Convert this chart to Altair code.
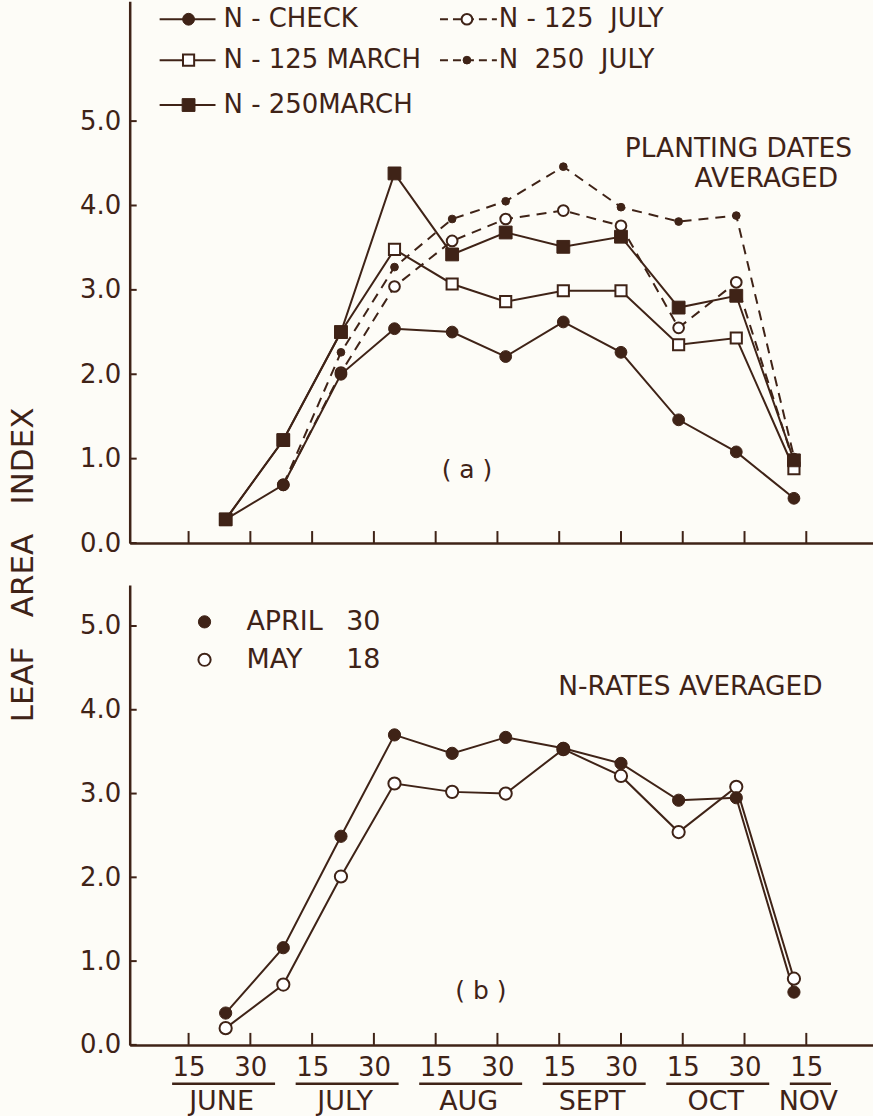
import altair as alt
import pandas as pd

NB = "\u00a0"

# ---------------- data ----------------
sample_days = [24, 38, 52, 65, 79, 92, 106, 120, 134, 148, 162]

n_check    = [0.28, 0.69, 2.00, 2.54, 2.50, 2.21, 2.62, 2.26, 1.46, 1.08, 0.53]
n125_march = [0.28, 1.22, 2.50, 3.48, 3.07, 2.86, 2.99, 2.99, 2.35, 2.43, 0.88]
n250_march = [0.28, 1.22, 2.50, 4.38, 3.42, 3.68, 3.51, 3.63, 2.79, 2.93, 0.98]
n125_july  = [None, 0.69, 2.02, 3.04, 3.58, 3.84, 3.94, 3.76, 2.55, 3.09, 0.95]
n250_july  = [None, 0.69, 2.26, 3.27, 3.84, 4.05, 4.46, 3.98, 3.81, 3.88, 1.02]

april30 = [0.38, 1.16, 2.49, 3.70, 3.48, 3.67, 3.54, 3.36, 2.92, 2.95, 0.63]
may18   = [0.20, 0.72, 2.01, 3.12, 3.02, 3.00, 3.53, 3.21, 2.54, 3.08, 0.79]

series_a = ["N - CHECK", "N - 125 MARCH", "N - 250MARCH",
            "N - 125" + NB * 2 + "JULY", "N" + NB * 2 + "250" + NB * 2 + "JULY"]
values_a = [n_check, n125_march, n250_march, n125_july, n250_july]

series_b_month = ["APRIL", "MAY"]
series_b_day = ["30", "18"]
values_b = [april30, may18]

tick_days   = [15, 30, 45, 60, 75, 90, 105, 120, 135, 150, 165]
tick_labels = ["15", "30", "15", "30", "15", "30", "15", "30", "15", "30", "15"]
month_names = ["JUNE", "JULY", "AUG", "SEPT", "OCT", "NOV"]
month_first = [15, 45, 75, 105, 135, 165]
month_last  = [30, 60, 90, 120, 150, 165]
y_ticks = [0, 1, 2, 3, 4, 5]
y_title = (NB * 3).join(["LEAF", "AREA", "INDEX"])

# ---------------- style ----------------
INK = "#3f2317"
PAPER = "#fdfcf7"
FONT = "DejaVu Sans"
W = 745
HA, HB = 543, 461
X_DOMAIN = [0.7, 181.2]
YA_DOMAIN = [0, 6.42]
YB_DOMAIN = [0, 5.49]

label_expr = " : ".join(
    f"datum.value == {d} ? '{t}'" for d, t in zip(tick_days, tick_labels)
) + " : ''"


def x_enc(field, bottom):
    kw = dict(title=None, grid=False, ticks=False, domainColor=INK, domainWidth=2.5)
    if bottom:
        kw.update(values=tick_days, labelExpr=label_expr, labelFontSize=26,
                  labelColor=INK, labelFont=FONT, labelPadding=10,
                  labelBaseline="top")
    else:
        kw.update(labels=False)
    return alt.X(field, type="quantitative",
                 scale=alt.Scale(domain=X_DOMAIN, nice=False, zero=False),
                 axis=alt.Axis(**kw))


def y_enc(field, dom):
    return alt.Y(field, type="quantitative",
                 scale=alt.Scale(domain=dom, nice=False, zero=False),
                 axis=alt.Axis(values=y_ticks, format=".1f", title=None, grid=False,
                               ticks=False, labelPadding=9, labelFontSize=26,
                               labelColor=INK, labelFont=FONT,
                               domainColor=INK, domainWidth=2.5))


style_list = [
    dict(dash=None, shape="circle", fill=INK, size=140),
    dict(dash=None, shape="square", fill="white", size=125),
    dict(dash=None, shape="square", fill=INK, size=165),
    dict(dash=[10, 7], shape="circle", fill="white", size=115),
    dict(dash=[10, 7], shape="circle", fill=INK, size=60),
]
styles_a = dict(zip(series_a, style_list))

rows = []
for name, vals in zip(series_a, values_a):
    for d, v in zip(sample_days, vals):
        if v is not None:
            rows.append({"day": d, "lai": v, "series": name})
df_a = pd.DataFrame(rows)

rows = []
for m, dd, vals in zip(series_b_month, series_b_day, values_b):
    for d, v in zip(sample_days, vals):
        rows.append({"day": d, "lai": v, "series": m + " " + dd})
df_b = pd.DataFrame(rows)


def line_layer(df, name, dom, bottom, dash):
    kw = dict(color=INK, strokeWidth=2)
    if dash:
        kw["strokeDash"] = dash
    return alt.Chart(df[df.series == name]).mark_line(**kw).encode(
        x=x_enc("day", bottom), y=y_enc("lai", dom))


def point_layer(df, name, dom, bottom, shape, fill, size):
    open_m = fill == "white"
    return alt.Chart(df[df.series == name]).mark_point(
        shape=shape, filled=True, fill=fill, stroke=INK,
        strokeWidth=2 if open_m else 1, size=size, opacity=1).encode(
        x=x_enc("day", bottom), y=y_enc("lai", dom))


def text_layer(txt, x, y, size=24, align="left", angle=None):
    kw = dict(font=FONT, fontSize=size, color=INK, align=align, baseline="middle")
    if angle is not None:
        kw["angle"] = angle
    return alt.Chart(pd.DataFrame({"t": [txt]})).mark_text(**kw).encode(
        x=alt.value(x), y=alt.value(y), text="t:N")


def xtick_layer(dom, bottom, h):
    return alt.Chart(pd.DataFrame({"day": tick_days})).mark_rule(
        color=INK, strokeWidth=2).encode(
        x=x_enc("day", bottom), y=alt.value(h), y2=alt.value(h - 12))


def ytick_layer(dom, bottom):
    return alt.Chart(pd.DataFrame({"lai": y_ticks})).mark_rule(
        color=INK, strokeWidth=2).encode(
        y=y_enc("lai", dom), x=alt.value(0), x2=alt.value(7))


# ---------------- panel (a) ----------------
layers_a = [xtick_layer(YA_DOMAIN, False, HA), ytick_layer(YA_DOMAIN, False)]
draw_order = [series_a[i] for i in (4, 3, 1, 2, 0)]
for name in draw_order:
    s = styles_a[name]
    layers_a.append(line_layer(df_a, name, YA_DOMAIN, False, s["dash"]))
for name in draw_order:
    s = styles_a[name]
    layers_a.append(point_layer(df_a, name, YA_DOMAIN, False, s["shape"], s["fill"], s["size"]))

legend_pos = dict(zip(series_a, [(0, 0), (0, 1), (0, 2), (1, 0), (1, 1)]))
col_geom = [(30, 86, 59, 94), (311, 368, 338, 370)]
row_y = [18, 59, 104]
for name in series_a:
    s = styles_a[name]
    c, r = legend_pos[name]
    x0, x1, xm, xt = col_geom[c]
    yy = row_y[r]
    rk = dict(color=INK, strokeWidth=2)
    if s["dash"]:
        rk["strokeDash"] = [8, 5]
    layers_a.append(alt.Chart(pd.DataFrame({"t": [name]})).mark_rule(**rk).encode(
        x=alt.value(x0), x2=alt.value(x1), y=alt.value(yy)))
    open_m = s["fill"] == "white"
    layers_a.append(alt.Chart(pd.DataFrame({"t": [name]})).mark_point(
        shape=s["shape"], filled=True, fill=s["fill"], stroke=INK,
        strokeWidth=2 if open_m else 1, size=s["size"], opacity=1).encode(
        x=alt.value(xm), y=alt.value(yy)))
    layers_a.append(text_layer(name, xt, yy, size=26))

layers_a.append(text_layer("PLANTING DATES", 724, 148, size=26.5, align="right"))
layers_a.append(text_layer("AVERAGED", 710, 178, size=26.5, align="right"))
layers_a.append(text_layer("( a )", 338, 470, size=25, align="center"))
layers_a.append(text_layer(y_title, -106, 565, size=31, align="center", angle=270))

panel_a = alt.layer(*layers_a).properties(width=W, height=HA)

# ---------------- panel (b) ----------------
layers_b = [xtick_layer(YB_DOMAIN, True, HB), ytick_layer(YB_DOMAIN, True)]
styles_b = [dict(fill=INK), dict(fill="white")]
for name in df_b.series.unique():
    layers_b.append(line_layer(df_b, name, YB_DOMAIN, True, None))
for name, st in zip(df_b.series.unique()[::-1], styles_b[::-1]):
    layers_b.append(point_layer(df_b, name, YB_DOMAIN, True, "circle", st["fill"], 150))

for i, (m, dd) in enumerate(zip(series_b_month, series_b_day)):
    yy = [37, 75][i]
    fill = styles_b[i]["fill"]
    layers_b.append(alt.Chart(pd.DataFrame({"t": [m]})).mark_point(
        shape="circle", filled=True, fill=fill, stroke=INK,
        strokeWidth=2 if fill == "white" else 1, size=150, opacity=1).encode(
        x=alt.value(75), y=alt.value(yy)))
    layers_b.append(text_layer(m, 117, yy, size=27))
    layers_b.append(text_layer(dd, 217, yy, size=27))

layers_b.append(text_layer("N-RATES AVERAGED", 562, 102, size=26.5, align="center"))
layers_b.append(text_layer("( b )", 352, 407, size=25, align="center"))

months_df = pd.DataFrame({
    "month": month_names,
    "start": [f - 4 for f in month_first],
    "end": [l + 6 for l in month_last],
    "mid": [(f + l) / 2 + 0.5 for f, l in zip(month_first, month_last)],
})
layers_b.append(alt.Chart(months_df).mark_rule(color=INK, strokeWidth=2.5).encode(
    x=x_enc("start", True), x2="end:Q", y=alt.value(HB + 39)))
layers_b.append(alt.Chart(months_df).mark_text(
    font=FONT, fontSize=27, color=INK, align="center", baseline="middle").encode(
    x=x_enc("mid", True), y=alt.value(HB + 57), text="month:N"))

panel_b = alt.layer(*layers_b).properties(width=W, height=HB)

chart = alt.vconcat(panel_a, panel_b, spacing=42, bounds="flush").resolve_scale(
    x="independent", y="independent"
).properties(
    padding={"left": 8, "top": 0, "right": 0, "bottom": 0},
    background=PAPER,
).configure_view(stroke=None)

chart.save("out.html", embed_options={"renderer": "svg", "actions": False})
